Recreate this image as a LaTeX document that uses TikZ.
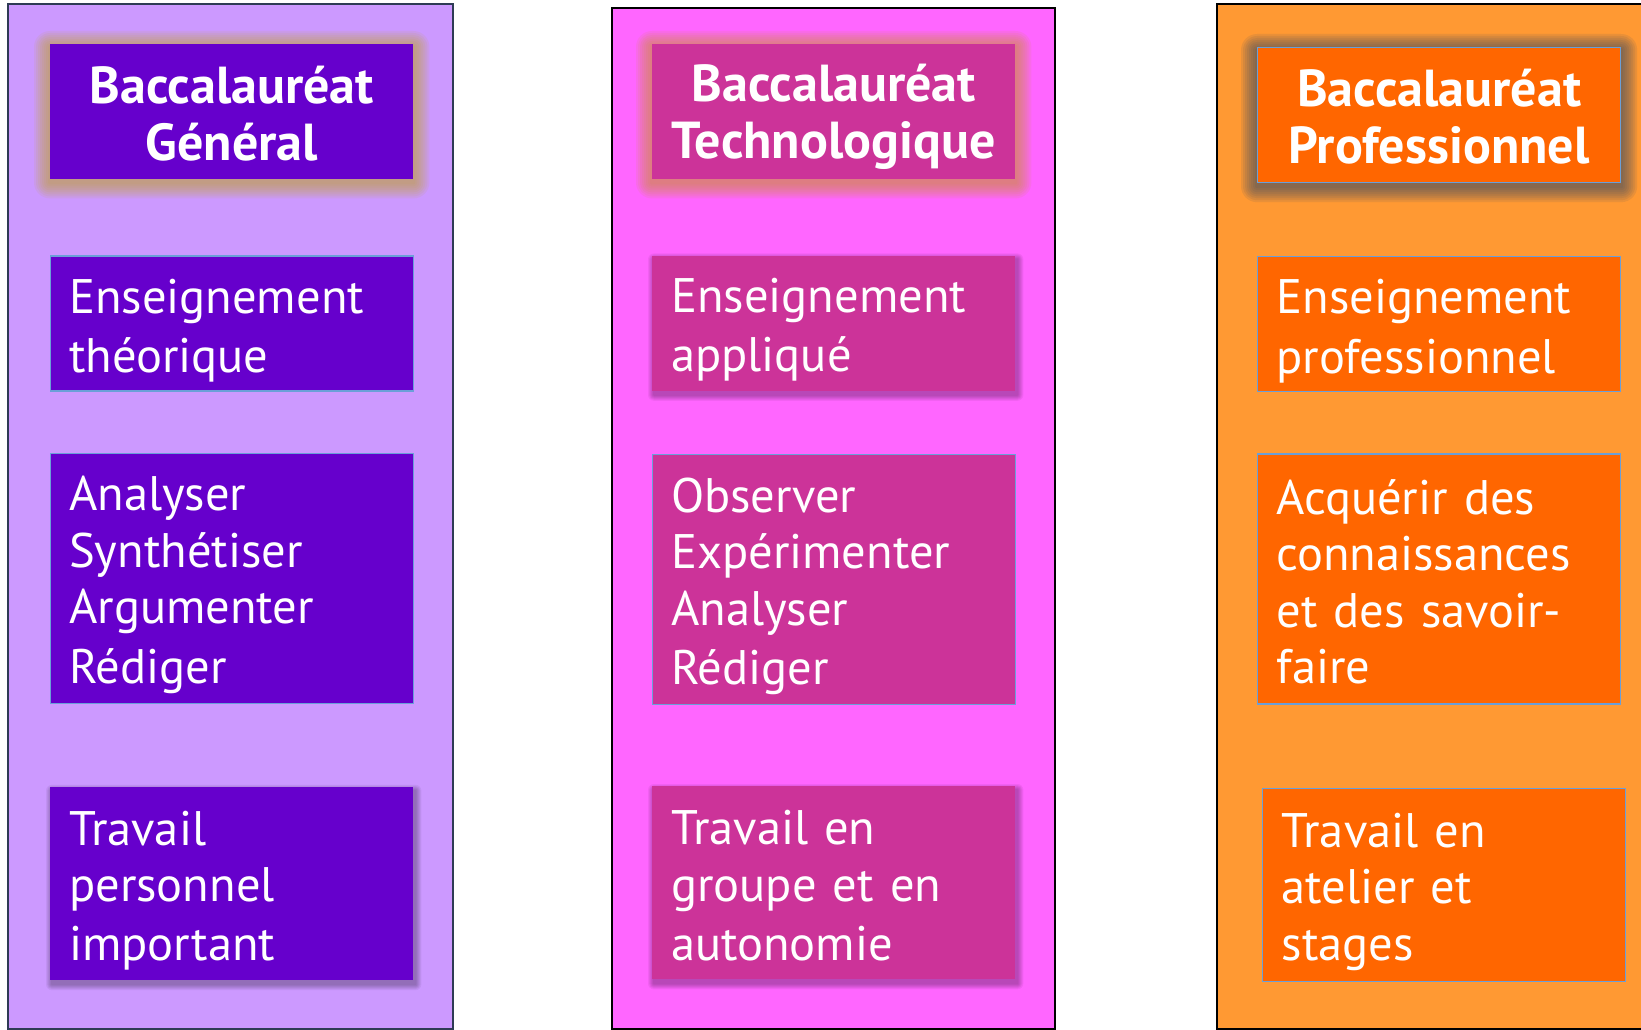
\documentclass[tikz,border=0pt]{standalone}
\usepackage{fontspec}
\setmainfont{PT Sans}
\usetikzlibrary{positioning}
\definecolor{gbg}{HTML}{CC99FF}
\definecolor{gbox}{HTML}{6600CC}
\definecolor{tbg}{HTML}{FF66FF}
\definecolor{tbox}{HTML}{CC3399}
\definecolor{pbg}{HTML}{FF9933}
\definecolor{pbox}{HTML}{FF6600}
\definecolor{edgeblue}{HTML}{6A9FD8}
\definecolor{gframe}{HTML}{2E3B55}
\definecolor{gglow}{HTML}{BFA53A}
\definecolor{tglow}{HTML}{CC9035}
\definecolor{pglow}{HTML}{3E4C64}
\newcommand{\bstrut}{\rule[-0.15\baselineskip]{0pt}{\baselineskip}}
\pgfdeclarelayer{back}
\pgfdeclarelayer{halo}
\pgfsetlayers{back,halo,main}

\begin{document}
\begin{tikzpicture}[x=1pt, y=-1pt,
    column/.style={line width=2.5pt},
    item/.style={anchor=north west, text=white, inner xsep=19pt, inner ysep=0pt,
                 text width=325pt, align=left, font=\fontsize{48.5}{56.5}\selectfont,
                 execute at begin node=\bstrut, execute at end node=\bstrut},
    title/.style={item, inner xsep=3pt, text width=357pt, align=center,
                  font=\fontsize{52}{57}\selectfont\bfseries},
    rim/.style={draw=edgeblue, line width=1.2pt}]

    \clip (0,0) rectangle (1641,1030);

    % general
    \node[title, fill=gbox, minimum height=135pt] (gtitle) at (50,44) {Baccalauréat\\Général};
    \node[item, fill=gbox, rim, minimum height=135pt, below=76pt of gtitle] (gtheo) {Enseignement\\théorique};
    \node[item, fill=gbox, rim, minimum height=250pt, below=61pt of gtheo] (gskill) {Analyser\\Synthétiser\\Argumenter\\Rédiger};
    \node[item, fill=gbox, minimum height=193pt, below=83pt of gskill] (gwork) {Travail\\personnel\\important};

    % technologique
    \node[title, fill=tbox, minimum height=135pt] (ttitle) at (652,44) {Baccalauréat\\Technologique};
    \node[item, fill=tbox, minimum height=135pt, below=76pt of ttitle] (tapp) {Enseignement\\appliqué};
    \node[item, fill=tbox, rim, minimum height=250pt, below=63pt of tapp] (tskill) {Observer\\Expérimenter\\Analyser\\Rédiger};
    \node[item, fill=tbox, minimum height=193pt, below=81pt of tskill] (twork) {Travail en\\groupe et en\\autonomie};

    % professionnel
    \node[title, fill=pbox, rim, minimum height=135pt] (ptitle) at (1257,47) {Baccalauréat\\Professionnel};
    \node[item, fill=pbox, rim, minimum height=135pt, below=73pt of ptitle] (ppro) {Enseignement\\professionnel};
    \node[item, fill=pbox, rim, minimum height=250pt, below=61pt of ppro] (pskill) {Acquérir des\\connaissances\\et des savoir-\\faire};
    \node[item, fill=pbox, rim, minimum height=193pt, below=83pt of pskill, xshift=5pt] (pwork) {Travail en\\atelier et\\stages};

    \begin{pgfonlayer}{halo}
        \foreach \n/\c in {gtitle/gglow, ttitle/tglow, ptitle/pglow}
            \foreach \g in {2,4,...,16}
                \fill[\c, opacity=0.11, rounded corners=\g pt]
                    ([shift={(-\g,-\g+3)}]\n.north west) rectangle ([shift={(\g,\g+3)}]\n.south east);
        \foreach \n in {gwork, tapp, twork}
            \foreach \g in {1,...,6}
                \fill[black, opacity=0.05, rounded corners=\g pt]
                    ([shift={(-\g+2,-\g+4)}]\n.north west) rectangle ([shift={(\g+2,\g+4)}]\n.south east);
    \end{pgfonlayer}

    \begin{pgfonlayer}{back}
        \fill[white] (0,0) rectangle (1641,1030);
        \draw[column, draw=gframe, fill=gbg] (8,4) rectangle (453,1029);
        \draw[column, draw=black, fill=tbg] (612,8) rectangle (1055,1029);
        \draw[column, draw=black, fill=pbg] (1217,4) rectangle (1660,1029);
    \end{pgfonlayer}
\end{tikzpicture}
\end{document}
